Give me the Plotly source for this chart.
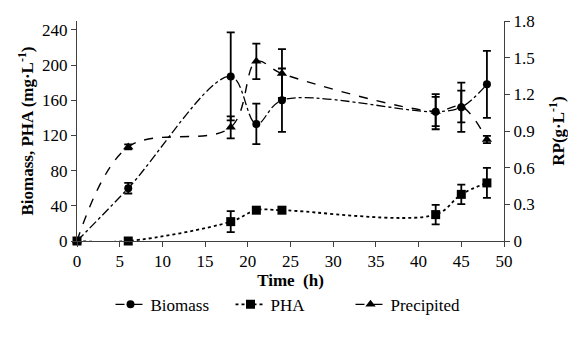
import plotly.graph_objects as go

time_h = [0, 6, 18, 21, 24, 42, 45, 48]
biomass = [0, 60, 187, 133, 160, 147, 152, 178]
biomass_err = [0, 6, 50, 23, 36, 20, 28, 38]
pha = [0, 0, 22, 35, 35, 30, 53, 66]
pha_err = [0, 0, 12, 3, 3, 11, 11, 17]
precip = [0, 0.77, 0.93, 1.47, 1.37, 1.06, 1.10, 0.83]
precip_err = [0, 0.02, 0.09, 0.145, 0.2, 0.12, 0.13, 0.03]

x_ticks = list(range(0, 51, 5))
left_ticks = [0, 40, 80, 120, 160, 200, 240]
right_ticks = [0, 0.3, 0.6, 0.9, 1.2, 1.5, 1.8]
right_labels = ["0", "0.3", "0.6", "0.9", "1.2", "1.5", "1.8"]

FONT = "Liberation Serif"
BLACK = "#000000"

fig = go.Figure()

fig.add_trace(go.Scatter(
    x=time_h, y=biomass, name="Biomass", mode="lines+markers",
    line=dict(color=BLACK, width=1.3, dash="dashdot", shape="spline", smoothing=1),
    marker=dict(symbol="circle", size=8, color=BLACK),
    error_y=dict(type="data", array=biomass_err, color=BLACK, thickness=1.8, width=4),
    cliponaxis=False,
))
fig.add_trace(go.Scatter(
    x=time_h, y=pha, name="PHA", mode="lines+markers",
    line=dict(color=BLACK, width=1.8, dash="dot", shape="spline", smoothing=1),
    marker=dict(symbol="square", size=9, color=BLACK),
    error_y=dict(type="data", array=pha_err, color=BLACK, thickness=1.8, width=4),
    cliponaxis=False,
))
fig.add_trace(go.Scatter(
    x=time_h, y=precip, name="Precipited", mode="lines+markers", yaxis="y2",
    line=dict(color=BLACK, width=1.4, dash="dash", shape="spline", smoothing=1),
    marker=dict(symbol="triangle-up", size=9, color=BLACK),
    error_y=dict(type="data", array=precip_err, color=BLACK, thickness=1.8, width=4),
    cliponaxis=False,
))

axis_common = dict(
    showgrid=False, zeroline=False, showline=True, linecolor="#404040", linewidth=1,
    ticks="outside", ticklen=5, tickcolor="#404040", automargin=False,
    tickfont=dict(family=FONT, size=17, color=BLACK),
)

fig.update_layout(
    width=568, height=341,
    margin=dict(l=77, r=64, t=21, b=100),
    paper_bgcolor="white", plot_bgcolor="white",
    font=dict(family=FONT, size=17, color=BLACK),
    showlegend=True,
    legend=dict(orientation="h", x=0.5, xanchor="center", y=-0.29, yanchor="middle",
                font=dict(family=FONT, size=17, color=BLACK), itemwidth=30,
                entrywidth=75, entrywidthmode="pixels",
                traceorder="normal"),
    xaxis=dict(range=[0, 50], tickvals=x_ticks, **axis_common,
               title=dict(text="<b>Time  (h)</b>", font=dict(family=FONT, size=17), standoff=3)),
    yaxis=dict(range=[0, 250], tickvals=left_ticks, **axis_common,
               title=dict(text="<b>Biomass, PHA (mg·L<sup>-1</sup>)</b>", font=dict(family=FONT, size=17), standoff=4)),
    yaxis2=dict(range=[0, 1.8], tickvals=right_ticks, ticktext=right_labels, overlaying="y", side="right",
                **axis_common,
                title=dict(text="<b>RP(g·L<sup>-1</sup>)</b>", font=dict(family=FONT, size=17), standoff=18)),
)

fig.write_html("out.html")
